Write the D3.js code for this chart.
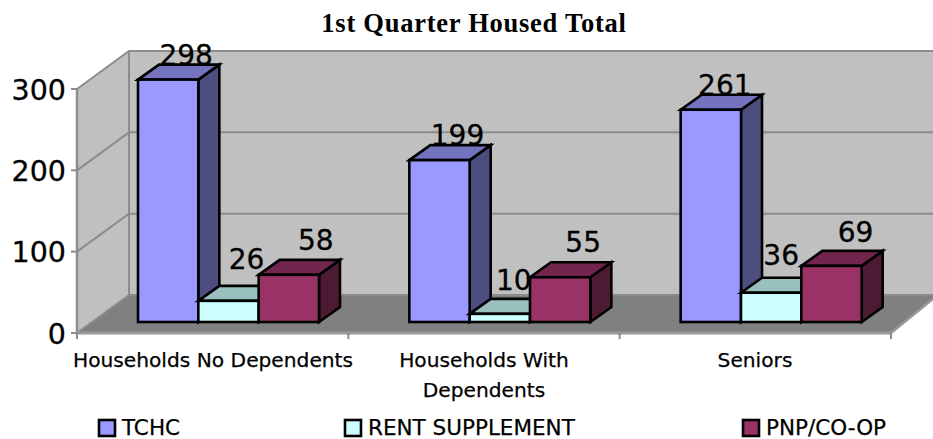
<!DOCTYPE html>
<html><head><meta charset="utf-8">
<script src="https://cdn.jsdelivr.net/npm/d3@7/dist/d3.min.js"></script>
<style>html,body{margin:0;background:#fff}svg{display:block}</style></head>
<body><svg id="c" width="933" height="439"></svg>
<script>
const categories = ["Households No Dependents", "Households With Dependents", "Seniors"];
const seriesNames = ["TCHC", "RENT SUPPLEMENT", "PNP/CO-OP"];
const tchc = [298, 199, 261];
const rentSupplement = [26, 10, 36];
const pnpCoop = [58, 55, 69];
const yTicks = [0, 100, 200, 300];
const seriesValues = [tchc, rentSupplement, pnpCoop];

const seriesColors = [
  {front:"#9999ff", top:"#7373bf", side:"#4d4d80"},
  {front:"#ccffff", top:"#99bfbf", side:"#668080"},
  {front:"#993366", top:"#73264d", side:"#4d1a33"}
];
// layout
const font = "'DejaVu Sans', sans-serif";
const depth = {x:52, y:-38}, barDepth = {x:21, y:-15}, barLift = 11;
const labelNudge = [ // x from front-face centre, y above bar top, per series/category
  [[18,15],[18,15],[14,15]],
  [[18,32],[14,24],[10,28]],
  [[27,25],[23,25],[24,24]]
];
const svg = d3.select("#c");
const x0 = d3.scaleBand().domain(categories).range([77, 891]);
const x1 = d3.scaleBand().domain(seriesNames).range([61, 242]);
const y = d3.scaleLinear().domain([0, 300]).range([333, 89]);
const axisColor = "#8c8c8c";
const L = d3.line();

// walls and floor
const x00 = x0.range()[0], x01 = x0.range()[1], yb = y(0), yt = y(300);
const wallR = 933;
svg.append("path").attr("d", L([[x00,yb],[x00,yt],[x00+depth.x,yt+depth.y],[wallR,yt+depth.y],[wallR,yb+depth.y],[x00+depth.x,yb+depth.y]])+"Z").attr("fill","#c0c0c0");
svg.append("path").attr("d", L([[x00,yb],[x00+depth.x,yb+depth.y],[wallR,yb+depth.y],[wallR,yb+depth.y+4],[x01,yb]])+"Z").attr("fill","#808080");
// gridlines
yTicks.forEach(t=>{
  const yy=y(t);
  svg.append("path").attr("d",L([[x00,yy],[x00+depth.x,yy+depth.y],[wallR,yy+depth.y]])).attr("fill","none").attr("stroke",axisColor).attr("stroke-width",2);
  svg.append("line").attr("x1",x00-6).attr("x2",x00).attr("y1",yy).attr("y2",yy).attr("stroke",axisColor).attr("stroke-width",2);
  svg.append("text").attr("x",x00-11).attr("y",yy+10.5).attr("text-anchor","end").attr("font-family",font).attr("font-size",28.5).attr("fill","#000").attr("stroke","#000").attr("stroke-width",0.3).text(t);
});
svg.append("line").attr("x1",x00+depth.x).attr("x2",x00+depth.x).attr("y1",yt+depth.y).attr("y2",yb+depth.y).attr("stroke",axisColor).attr("stroke-width",2);
svg.append("line").attr("x1",x00).attr("x2",x00).attr("y1",yt).attr("y2",yb).attr("stroke",axisColor).attr("stroke-width",2.5);
svg.append("line").attr("x1",x00).attr("x2",x01).attr("y1",yb).attr("y2",yb).attr("stroke","#999").attr("stroke-width",3);
svg.append("line").attr("x1",x01).attr("x2",wallR).attr("y1",yb).attr("y2",yb+depth.y+4).attr("stroke","#999").attr("stroke-width",2.5);
d3.range(4).forEach(i=>{
  const xx=x00+i*x0.step();
  svg.append("line").attr("x1",xx).attr("x2",xx).attr("y1",yb).attr("y2",yb+6).attr("stroke",axisColor).attr("stroke-width",2);
});

// data labels (under the bars)
categories.forEach((c,ci)=>seriesNames.forEach((s,si)=>{
  const v=seriesValues[si][ci];
  const cx=x0(c)+x1(s)+x1.bandwidth()/2, top=y(v)-barLift;
  const n=labelNudge[si][ci];
  svg.append("text").attr("x",cx+n[0]).attr("y",top-n[1]).attr("text-anchor","middle").attr("font-family",font).attr("font-size",28).attr("fill","#000").attr("stroke","#000").attr("stroke-width",0.3).text(v);
}));

// bars
categories.forEach((c,ci)=>seriesNames.forEach((s,si)=>{
  const v=seriesValues[si][ci], col=seriesColors[si];
  const xl=x0(c)+x1(s), xr=xl+x1.bandwidth(), yB=y(0)-barLift, yT=y(v)-barLift;
  const g=svg.append("g").attr("stroke","#000").attr("stroke-width",2.6).attr("stroke-linejoin","miter");
  g.append("path").attr("fill",col.side).attr("d",L([[xr,yB],[xr,yT],[xr+barDepth.x,yT+barDepth.y],[xr+barDepth.x,yB+barDepth.y]])+"Z");
  g.append("path").attr("fill",col.top).attr("d",L([[xl,yT],[xl+barDepth.x,yT+barDepth.y],[xr+barDepth.x,yT+barDepth.y],[xr,yT]])+"Z");
  g.append("rect").attr("fill",col.front).attr("x",xl).attr("y",yT).attr("width",xr-xl).attr("height",yB-yT);
}));

// title
svg.append("text").attr("x",474).attr("y",32).attr("text-anchor","middle").attr("font-family","'Liberation Serif', serif").attr("font-weight","bold").attr("font-size",26.5).attr("letter-spacing",0.75).attr("fill","#000").text("1st Quarter Housed Total");

// category labels
const catStyle = sel=>sel.attr("text-anchor","middle").attr("font-family",font).attr("font-size",20.2).attr("fill","#000").attr("stroke","#000").attr("stroke-width",0.25);
svg.append("text").call(catStyle).attr("x",213).attr("y",367).text(categories[0]);
const w2 = categories[1].split(" ");
svg.append("text").call(catStyle).attr("x",484).attr("y",367).text(w2.slice(0,2).join(" "));
svg.append("text").call(catStyle).attr("x",484).attr("y",397).text(w2[2]);
svg.append("text").call(catStyle).attr("x",755).attr("y",367).text(categories[2]);

// legend
const legendX = [99, 345, 743];
seriesNames.forEach((s,i)=>{
  svg.append("rect").attr("x",legendX[i]).attr("y",420).attr("width",16).attr("height",16).attr("fill",seriesColors[i].front).attr("stroke","#000").attr("stroke-width",2.6);
  svg.append("text").attr("x",legendX[i]+23).attr("y",435).attr("font-family",font).attr("font-size",21.5).attr("fill","#000").attr("stroke","#000").attr("stroke-width",0.25).text(s);
});
</script></body></html>
